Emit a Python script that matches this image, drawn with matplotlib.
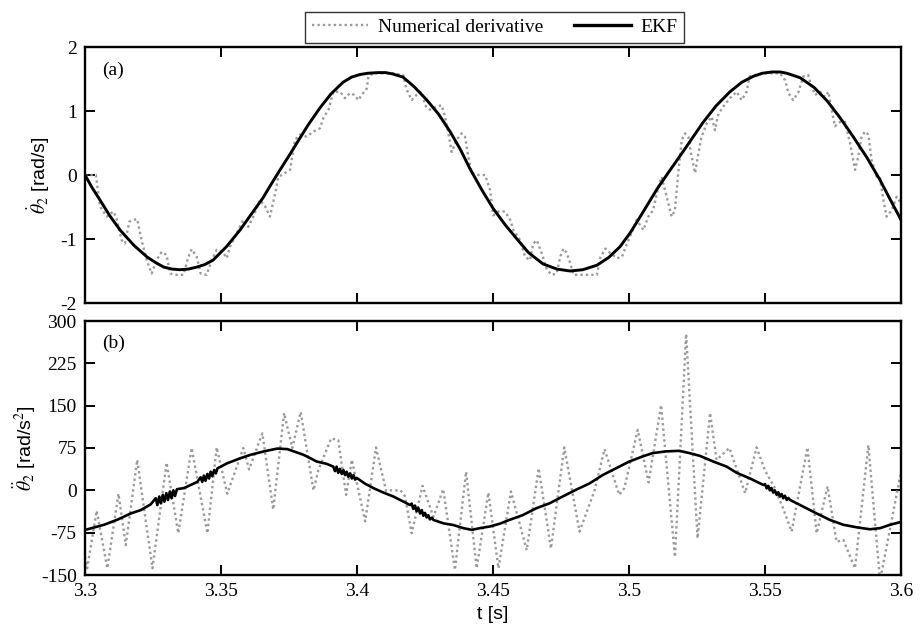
import matplotlib
matplotlib.use("Agg")
import matplotlib.pyplot as plt
from matplotlib.lines import Line2D

# ---------------- data ----------------
x_ticks = [3.3, 3.35, 3.4, 3.45, 3.5, 3.55, 3.6]
x_ticklabels = ["3.3", "3.35", "3.4", "3.45", "3.5", "3.55", "3.6"]
a_yticks = [-2, -1, 0, 1, 2]
b_yticks = [-150, -75, 0, 75, 150, 225, 300]

# (a) numerical derivative of theta2
t_num_a = [3.3000, 3.3040, 3.3055, 3.3080, 3.3104, 3.3116, 3.3135, 3.3147, 3.3163, 3.3178,
           3.3192, 3.3208, 3.3227, 3.3245, 3.3263, 3.3282, 3.3300, 3.3313, 3.3337, 3.3362,
           3.3380, 3.3392, 3.3411, 3.3425, 3.3447, 3.3466, 3.3484, 3.3509, 3.3521, 3.3533,
           3.3558, 3.3582, 3.3600, 3.3619, 3.3643, 3.3662, 3.3680, 3.3699, 3.3711, 3.3735,
           3.3754, 3.3772, 3.3790, 3.3815, 3.3840, 3.3864, 3.3876, 3.3895, 3.3913, 3.3938,
           3.3956, 3.3974, 3.3990, 3.4005, 3.4017, 3.4036, 3.4042, 3.4060, 3.4097, 3.4134,
           3.4170, 3.4183, 3.4201, 3.4219, 3.4238, 3.4250, 3.4268, 3.4293, 3.4311, 3.4324,
           3.4336, 3.4348, 3.4366, 3.4385, 3.4397, 3.4409, 3.4422, 3.4446, 3.4471, 3.4489,
           3.4501, 3.4520, 3.4544, 3.4563, 3.4575, 3.4600, 3.4618, 3.4636, 3.4648, 3.4661,
           3.4679, 3.4698, 3.4716, 3.4734, 3.4747, 3.4759, 3.4771, 3.4784, 3.4796, 3.4833,
           3.4882, 3.4894, 3.4913, 3.4931, 3.4956, 3.4974, 3.4990, 3.5004, 3.5028, 3.5053,
           3.5071, 3.5089, 3.5108, 3.5120, 3.5132, 3.5145, 3.5157, 3.5169, 3.5181, 3.5194,
           3.5206, 3.5218, 3.5230, 3.5243, 3.5255, 3.5267, 3.5286, 3.5304, 3.5316, 3.5329,
           3.5347, 3.5371, 3.5396, 3.5414, 3.5432, 3.5444, 3.5469, 3.5506, 3.5555, 3.5574,
           3.5586, 3.5604, 3.5623, 3.5641, 3.5659, 3.5668, 3.5684, 3.5702, 3.5721, 3.5733,
           3.5745, 3.5757, 3.5776, 3.5794, 3.5813, 3.5831, 3.5843, 3.5855, 3.5868, 3.5880,
           3.5892, 3.5911, 3.5923, 3.5935, 3.5947, 3.5966, 3.5984, 3.6000]
v_num_a = [0.00, 0.00, -0.49, -0.65, -0.57, -0.68, -1.02, -1.07, -0.73, -0.70,
           -0.69, -1.02, -1.33, -1.54, -1.33, -1.20, -1.25, -1.54, -1.56, -1.56,
           -1.28, -1.16, -1.28, -1.54, -1.56, -1.33, -1.17, -1.22, -1.30, -1.12,
           -0.91, -0.70, -0.81, -0.65, -0.39, -0.49, -0.65, -0.29, -0.03, 0.03,
           0.08, 0.55, 0.63, 0.60, 0.68, 0.73, 0.89, 1.02, 1.30, 1.30,
           1.20, 1.28, 1.25, 1.17, 1.25, 1.35, 1.54, 1.59, 1.59, 1.59,
           1.56, 1.33, 1.17, 1.25, 1.30, 1.09, 1.02, 1.07, 1.09, 0.91,
           0.65, 0.36, 0.55, 0.65, 0.60, 0.29, 0.03, 0.00, 0.00, -0.23,
           -0.63, -0.57, -0.57, -0.70, -0.86, -1.02, -1.28, -1.33, -1.07, -1.02,
           -1.22, -1.48, -1.56, -1.54, -1.28, -1.15, -1.22, -1.38, -1.56, -1.56,
           -1.56, -1.30, -1.15, -1.22, -1.30, -1.28, -1.10, -0.96, -0.70, -0.86,
           -0.65, -0.55, -0.18, -0.03, -0.23, -0.44, -0.65, -0.55, 0.03, 0.55,
           0.65, 0.60, 0.29, 0.03, 0.34, 0.60, 0.81, 0.91, 0.70, 0.96,
           1.07, 1.20, 1.30, 1.17, 1.30, 1.54, 1.57, 1.59, 1.59, 1.48,
           1.28, 1.17, 1.30, 1.54, 1.56, 1.43, 1.25, 1.30, 1.22, 1.30,
           1.02, 0.76, 0.83, 0.83, 0.49, 0.08, 0.29, 0.60, 0.68, 0.63,
           0.23, -0.03, -0.05, -0.39, -0.65, -0.55, -0.34, -0.44]

# (a) EKF estimate of theta2 dot
t_ekf_a = [3.3000, 3.3025, 3.3055, 3.3090, 3.3129, 3.3180, 3.3228, 3.3260, 3.3290, 3.3320,
           3.3349, 3.3380, 3.3410, 3.3440, 3.3471, 3.3520, 3.3570, 3.3610, 3.3654, 3.3685,
           3.3717, 3.3750, 3.3779, 3.3820, 3.3864, 3.3905, 3.3949, 3.3980, 3.4011, 3.4040,
           3.4077, 3.4105, 3.4130, 3.4169, 3.4210, 3.4257, 3.4300, 3.4342, 3.4380, 3.4415,
           3.4460, 3.4500, 3.4545, 3.4588, 3.4630, 3.4684, 3.4735, 3.4783, 3.4830, 3.4882,
           3.4925, 3.4967, 3.5005, 3.5040, 3.5070, 3.5103, 3.5145, 3.5188, 3.5230, 3.5272,
           3.5320, 3.5371, 3.5415, 3.5456, 3.5490, 3.5526, 3.5555, 3.5580, 3.5629, 3.5680,
           3.5728, 3.5775, 3.5824, 3.5875, 3.5923, 3.5960, 3.6000]
v_ekf_a = [0.00, -0.19, -0.39, -0.63, -0.86, -1.10, -1.28, -1.37, -1.44, -1.47,
           -1.48, -1.47, -1.44, -1.40, -1.33, -1.12, -0.86, -0.62, -0.36, -0.14,
           0.08, 0.30, 0.50, 0.78, 1.05, 1.27, 1.45, 1.53, 1.57, 1.59,
           1.60, 1.60, 1.58, 1.53, 1.38, 1.17, 0.95, 0.68, 0.40, 0.10,
           -0.24, -0.52, -0.78, -1.00, -1.21, -1.39, -1.47, -1.50, -1.48, -1.41,
           -1.29, -1.12, -0.90, -0.66, -0.45, -0.22, 0.04, 0.30, 0.56, 0.82,
           1.08, 1.30, 1.45, 1.54, 1.59, 1.61, 1.61, 1.59, 1.52, 1.37,
           1.16, 0.90, 0.60, 0.27, -0.08, -0.38, -0.70]

# (b) numerical second derivative of theta2
t_num_b = [3.3000, 3.3008, 3.3043, 3.3082, 3.3123, 3.3150, 3.3192, 3.3248, 3.3300, 3.3343,
           3.3392, 3.3450, 3.3484, 3.3523, 3.3582, 3.3603, 3.3652, 3.3692, 3.3732, 3.3762,
           3.3793, 3.3840, 3.3858, 3.3905, 3.3931, 3.3960, 3.3981, 3.4030, 3.4070, 3.4107,
           3.4125, 3.4160, 3.4176, 3.4201, 3.4241, 3.4281, 3.4317, 3.4360, 3.4401, 3.4440,
           3.4483, 3.4520, 3.4566, 3.4624, 3.4668, 3.4713, 3.4762, 3.4818, 3.4873, 3.4910,
           3.4964, 3.4983, 3.5032, 3.5072, 3.5118, 3.5169, 3.5210, 3.5252, 3.5298, 3.5322,
           3.5369, 3.5427, 3.5469, 3.5500, 3.5535, 3.5565, 3.5598, 3.5656, 3.5690, 3.5730,
           3.5763, 3.5788, 3.5831, 3.5880, 3.5923, 3.6000]
v_num_b = [-118, -138, -36, -138, -6, -97, 54, -138, 49, -76,
           75, -76, 76, -6, 75, 37, 101, -34, 137, 75,
           139, 0, 36, 92, 89, -8, 54, -55, 76, -1,
           0, 0, -10, -76, 8, -47, 2, -141, 33, -138,
           -4, -138, -2, -106, 39, -103, 76, -73, -1, 73,
           -8, 4, 107, 14, 151, -118, 277, -85, 137, 54,
           75, -5, 76, 35, 5, -30, -73, 76, -76, 7,
           -91, -88, -138, 80, -160, 33]

# (b) EKF estimate of theta2 double dot
t_ekf_b = [3.3000, 3.3009, 3.3040, 3.3070, 3.3119, 3.3168, 3.3205, 3.3241,
           3.3260, 3.3266, 3.3273, 3.3279, 3.3286, 3.3292, 3.3299, 3.3305, 3.3312, 3.3318,
           3.3325, 3.3331, 3.3338, 3.3364, 3.3413,
           3.3425, 3.3431, 3.3437, 3.3443, 3.3450, 3.3456, 3.3462, 3.3468, 3.3475, 3.3481,
           3.3487, 3.3523, 3.3572, 3.3609, 3.3658, 3.3707, 3.3744, 3.3803, 3.3828, 3.3852,
           3.3888, 3.3913,
           3.3919, 3.3925, 3.3931, 3.3937, 3.3944, 3.3950, 3.3956, 3.3962, 3.3968, 3.3975,
           3.3981, 3.3987, 3.3993, 3.3999,
           3.4029, 3.4060, 3.4097, 3.4134, 3.4171,
           3.4195, 3.4201, 3.4207, 3.4213, 3.4219, 3.4225, 3.4232, 3.4238, 3.4244, 3.4250,
           3.4256, 3.4262, 3.4268, 3.4275, 3.4281,
           3.4318, 3.4354, 3.4391, 3.4422, 3.4452, 3.4489, 3.4526, 3.4560, 3.4609, 3.4658,
           3.4708, 3.4756, 3.4805, 3.4854, 3.4903, 3.4952, 3.5001, 3.5050, 3.5087, 3.5136,
           3.5185, 3.5222, 3.5261, 3.5310, 3.5359, 3.5396, 3.5445, 3.5494,
           3.5500, 3.5506, 3.5512, 3.5518, 3.5524, 3.5530, 3.5536, 3.5543, 3.5549, 3.5555,
           3.5561, 3.5567, 3.5573, 3.5580, 3.5586,
           3.5592, 3.5641, 3.5690, 3.5739, 3.5788, 3.5837, 3.5886, 3.5923, 3.5960, 3.6000]
v_ekf_b = [-70, -69, -65, -61, -52, -41, -35, -25,
           -14, -26, -11, -23, -8, -20, -5, -17, -2, -14,
           0, -10, 2, 4, 15,
           23, 15, 26, 17, 29, 21, 33, 25, 36, 30,
           39, 48, 57, 63, 69, 74, 73, 63, 57, 51,
           47, 42,
           34, 42, 31, 38, 29, 36, 27, 33, 24, 30,
           21, 27, 19, 22,
           12, 4, -4, -11, -20,
           -26, -23.5, -33, -27, -37, -31, -41, -35, -45, -40,
           -48, -44, -51.5, -48.5, -52.5,
           -58.5, -61.4, -67, -70, -67, -64, -59, -52.5, -44, -32,
           -23, -11, 1, 12, 27, 39, 51, 60, 66, 69,
           70, 66, 61, 51, 42, 31, 21, 9.5,
           11, 3.5, 8, 0, 4, -4, 0, -8, -3.5, -11,
           -6.5, -14, -9.5, -17, -13.5,
           -17, -29, -41, -52.5, -61, -65.5, -69, -67, -61, -56]

# ---------------- style ----------------
plt.rcParams["mathtext.fontset"] = "stix"
plt.rcParams["axes.unicode_minus"] = False
SERIF = "Liberation Serif"
SANS = "Liberation Sans"
GRAY = "#9a9a9a"

fig = plt.figure(figsize=(9.21, 6.38), dpi=100)
W, H = 921.0, 638.0
ax1 = fig.add_axes([85 / W, 1 - 303 / H, 816 / W, 256 / H])
ax2 = fig.add_axes([85 / W, 1 - 575 / H, 816 / W, 254 / H])

dot_style = (0, (1, 1.3))
ax1.plot(t_num_a, v_num_a, color=GRAY, lw=1.7, linestyle=dot_style, zorder=2)
ax1.plot(t_ekf_a, v_ekf_a, color="black", lw=2.1, zorder=3,
         solid_joinstyle="round")
ax2.plot(t_num_b, v_num_b, color=GRAY, lw=1.7, linestyle=dot_style, zorder=2)
ax2.plot(t_ekf_b, v_ekf_b, color="black", lw=1.9, zorder=3,
         solid_joinstyle="round")

for ax, yt in ((ax1, a_yticks), (ax2, b_yticks)):
    ax.set_xlim(x_ticks[0], x_ticks[-1])
    ax.set_ylim(yt[0], yt[-1])
    ax.set_xticks(x_ticks)
    ax.set_yticks(yt)
    ax.set_yticklabels([str(v) for v in yt], fontfamily=SERIF, fontsize=14)
    ax.tick_params(direction="in", length=7, width=1.4, top=True, right=True,
                   pad=6, colors="black")
    for s in ax.spines.values():
        s.set_linewidth(1.7)

ax1.set_xticklabels([])
ax2.set_xticklabels(x_ticklabels, fontfamily=SERIF, fontsize=14)

ax1.text(0.021, 0.91, "(a)", transform=ax1.transAxes, ha="left", va="center",
         fontfamily=SERIF, fontsize=14)
ax2.text(0.021, 0.913, "(b)", transform=ax2.transAxes, ha="left", va="center",
         fontfamily=SERIF, fontsize=14)

ax1.set_ylabel(r"$\dot{\theta}_2$ [rad/s]", fontfamily=SANS, fontsize=14, labelpad=6)
ax2.set_ylabel(r"$\ddot{\theta}_2$ [rad/s$^2$]", fontfamily=SANS, fontsize=14, labelpad=2)
ax2.set_xlabel("t [s]", fontfamily=SANS, fontsize=14, labelpad=4)

handles = [Line2D([], [], color=GRAY, lw=1.7, linestyle=dot_style),
           Line2D([], [], color="black", lw=2.4)]
leg = fig.legend(handles, ["Numerical derivative", "EKF"], loc="upper center",
                 bbox_to_anchor=(494.5 / W, 1 - 2 / H), ncol=2, frameon=True,
                 fancybox=False, edgecolor="black", handlelength=2.9,
                 columnspacing=1.6, handletextpad=0.5, borderpad=0.35,
                 prop={"family": SERIF, "size": 14})
leg.get_frame().set_linewidth(1.0)

fig.savefig("out.png", dpi=100)
